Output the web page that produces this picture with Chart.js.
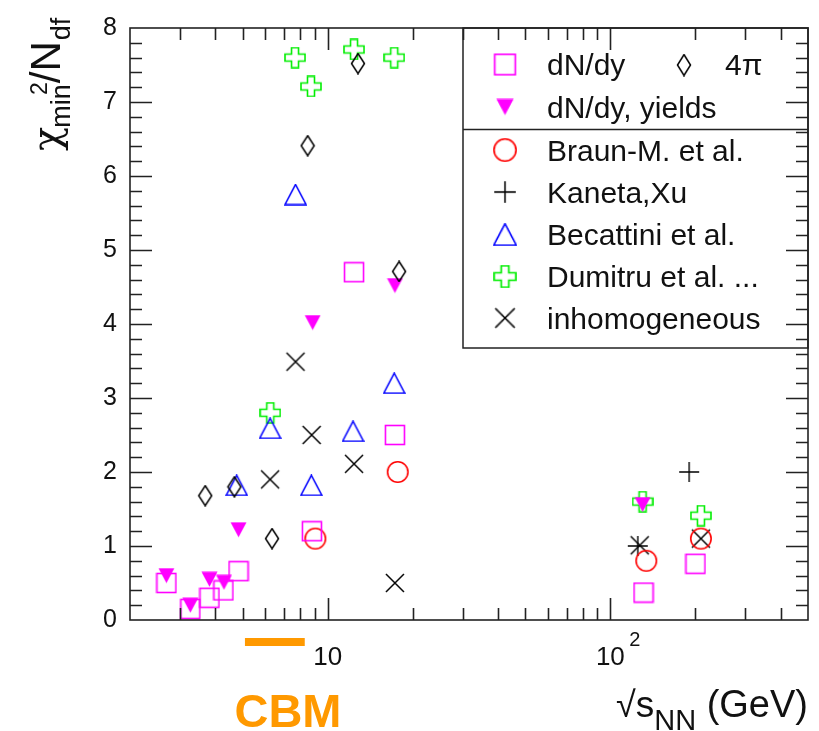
<!DOCTYPE html>
<html>
<head>
<meta charset="utf-8">
<script src="https://cdn.jsdelivr.net/npm/chart.js@4/dist/chart.umd.min.js"></script>
<style>
  body { margin: 0; background: #fff; }
  canvas { display: block; }
</style>
</head>
<body>
<canvas id="chi2" width="819" height="731"></canvas>
<script>
// chi2/Ndf of thermal fits vs sqrt(s_NN)

// dN/dy (open squares)
const dndyX = [2.69, 3.27, 3.82, 4.28, 4.84, 8.8, 12.4, 17.3, 131, 200];
const dndyY = [0.50, 0.15, 0.30, 0.40, 0.66, 1.20, 4.70, 2.50, 0.37, 0.76];
// dN/dy, yields (filled down triangles)
const yieldsX = [2.69, 3.27, 3.82, 4.3, 4.84, 8.85, 17.3, 130];
const yieldsY = [0.60, 0.20, 0.55, 0.51, 1.22, 4.02, 4.52, 1.56];
// 4pi (diamonds)
const fourPiX = [3.69, 4.68, 6.36, 8.5, 12.8, 17.9];
const fourPiY = [1.68, 1.80, 1.10, 6.41, 7.52, 4.71];
// Braun-Munzinger et al.
const braunX = [9.05, 17.7, 134, 209];
const braunY = [1.10, 2.00, 0.80, 1.10];
// Kaneta, Xu
const kanetaX = [125, 190];
const kanetaY = [1.00, 2.00];
// Becattini et al.
const becattiniX = [4.77, 6.26, 7.7, 8.76, 12.3, 17.2];
const becattiniY = [1.82, 2.59, 5.75, 1.82, 2.55, 3.20];
// Dumitru et al.
const dumitruX = [6.27, 7.67, 8.73, 12.4, 17.2, 130, 209];
const dumitruY = [2.80, 7.60, 7.21, 7.71, 7.60, 1.60, 1.41];
// inhomogeneous freeze-out
const inhomX = [6.26, 7.7, 8.78, 12.4, 17.3, 127, 209];
const inhomY = [1.90, 3.49, 2.50, 2.11, 0.50, 1.01, 1.10];

// CBM energy range
const cbmRange = [5.1, 8.3];

// axis ticks
const xMajorTicks = [10, 100];
const xMinorTicks = [3, 4, 5, 6, 7, 8, 9, 20, 30, 40, 50, 60, 70, 80, 90, 200, 300, 400];

const SANS = '"Liberation Sans", Arial, Helvetica, sans-serif';

function pts(xs, ys) {
  return xs.map((x, i) => ({ x: x, y: ys[i] }));
}

// marker sprites
function sprite(w, h, draw) {
  const c = document.createElement('canvas');
  c.width = w; c.height = h;
  const g = c.getContext('2d');
  g.lineWidth = 1.6;
  draw(g);
  return c;
}

const mSquare = sprite(22, 22, g => {
  g.strokeStyle = '#ff00ff';
  g.strokeRect(1.5, 1.5, 19, 19);
});
const mTriDown = sprite(17, 16, g => {
  g.fillStyle = '#ff00ff';
  g.beginPath(); g.moveTo(0.5, 0.5); g.lineTo(16.5, 0.5); g.lineTo(8.5, 15.5); g.closePath(); g.fill();
});
const mDiamond = sprite(16, 22, g => {
  g.strokeStyle = '#000';
  g.lineWidth = 1.5;
  g.beginPath(); g.moveTo(8, 1); g.lineTo(14.5, 11); g.lineTo(8, 21); g.lineTo(1.5, 11); g.closePath(); g.stroke();
});
const mCircle = sprite(24, 24, g => {
  g.strokeStyle = '#ff0000';
  g.beginPath(); g.arc(12, 12, 10.2, 0, Math.PI * 2); g.stroke();
});
const mPlus = sprite(22, 22, g => {
  g.strokeStyle = '#000';
  g.lineWidth = 1.4;
  g.beginPath(); g.moveTo(11, 1); g.lineTo(11, 21); g.moveTo(1, 11); g.lineTo(21, 11); g.stroke();
});
const mTriUp = sprite(23, 22, g => {
  g.strokeStyle = '#0000ff';
  g.beginPath(); g.moveTo(11.5, 1); g.lineTo(22, 21); g.lineTo(1, 21); g.closePath(); g.stroke();
});
const mOpenCross = sprite(22, 22, g => {
  g.strokeStyle = '#00ee00';
  const a = 7.5, b = 14.5;
  g.beginPath();
  g.moveTo(a, 1); g.lineTo(b, 1); g.lineTo(b, a); g.lineTo(21, a); g.lineTo(21, b); g.lineTo(b, b);
  g.lineTo(b, 21); g.lineTo(a, 21); g.lineTo(a, b); g.lineTo(1, b); g.lineTo(1, a); g.lineTo(a, a);
  g.closePath(); g.stroke();
});
const mX = sprite(22, 22, g => {
  g.strokeStyle = '#000';
  g.lineWidth = 1.5;
  g.beginPath(); g.moveTo(2, 2); g.lineTo(20, 20); g.moveTo(20, 2); g.lineTo(2, 20); g.stroke();
});

function ds(label, xs, ys, img) {
  return { label: label, data: pts(xs, ys), pointStyle: img, pointRadius: 10, showLine: false };
}

// frame, ticks, tick labels, axis titles, legend and CBM marker
const decor = {
  id: 'decor',
  afterDatasetsDraw(chart) {
    const ctx = chart.ctx;
    const a = chart.chartArea;

    // legend box
    const L = 463, T = a.top, R = a.right, B = 348;
    ctx.save();
    ctx.fillStyle = '#fff';
    ctx.fillRect(L, T, R - L, B - T);
    ctx.strokeStyle = '#222';
    ctx.lineWidth = 1.5;
    ctx.strokeRect(L, T, R - L, B - T);
    ctx.beginPath(); ctx.moveTo(L, 129.5); ctx.lineTo(R, 129.5); ctx.stroke();

    const mx = 505, tx = 547;
    const rows = [
      [mSquare, 'dN/dy', 75],
      [mTriDown, 'dN/dy, yields', 117.5],
      [mCircle, 'Braun-M. et al.', 160.5],
      [mPlus, 'Kaneta,Xu', 202.5],
      [mTriUp, 'Becattini et al.', 245],
      [mOpenCross, 'Dumitru et al. ...', 287],
      [mX, 'inhomogeneous', 328.5]
    ];
    ctx.font = '30px ' + SANS;
    ctx.fillStyle = '#111';
    ctx.textBaseline = 'alphabetic';
    rows.forEach(r => {
      const s = 1.08;
      const w = r[0].width * s, h = r[0].height * s;
      ctx.drawImage(r[0], mx - w / 2, r[2] - 10.5 - h / 2, w, h);
      ctx.fillText(r[1], tx, r[2]);
    });
    ctx.drawImage(mDiamond, 684 - 8, 65 - 11.5, 16, 23);
    ctx.fillText('4π', 725, 75);
    ctx.restore();
  },
  afterDraw(chart) {
    const ctx = chart.ctx;
    const a = chart.chartArea;
    const xs = chart.scales.x, ys = chart.scales.y;
    ctx.save();
    ctx.strokeStyle = '#222';
    ctx.lineWidth = 1.6;
    ctx.strokeRect(a.left, a.top, a.right - a.left, a.bottom - a.top);

    ctx.beginPath();
    const xTick = (v, len) => {
      const p = Math.round(xs.getPixelForValue(v)) + 0.5;
      ctx.moveTo(p, a.bottom); ctx.lineTo(p, a.bottom - len);
      ctx.moveTo(p, a.top); ctx.lineTo(p, a.top + len);
    };
    xMajorTicks.forEach(v => xTick(v, 22));
    xMinorTicks.forEach(v => xTick(v, 12));
    for (let i = 1; i < 40; i++) {
      const v = i / 5;
      const len = i % 5 === 0 ? 22 : 12;
      const p = Math.round(ys.getPixelForValue(v)) + 0.5;
      ctx.moveTo(a.left, p); ctx.lineTo(a.left + len, p);
      ctx.moveTo(a.right, p); ctx.lineTo(a.right - len, p);
    }
    ctx.stroke();

    // x tick labels
    ctx.fillStyle = '#111';
    ctx.textBaseline = 'alphabetic';
    ctx.textAlign = 'center';
    ctx.font = '26px ' + SANS;
    ctx.fillText('10', xs.getPixelForValue(10), 665);
    const p100 = xs.getPixelForValue(100);
    ctx.fillText('10', p100, 665);
    ctx.textAlign = 'left';
    ctx.font = '20px ' + SANS;
    ctx.fillText('2', p100 + 19, 646);

    // x title
    const parts = [
      ['√', '36px ' + SANS, 0],
      ['s', '37px ' + SANS, 0],
      ['NN', '29px ' + SANS, 13],
      [' (GeV)', '38px ' + SANS, 0]
    ];
    let total = 0;
    parts.forEach(p => { ctx.font = p[1]; total += ctx.measureText(p[0]).width; });
    let x = 808 - total;
    parts.forEach(p => {
      ctx.font = p[1];
      ctx.fillText(p[0], x, 717 + p[2]);
      x += ctx.measureText(p[0]).width;
    });

    // y title
    ctx.save();
    ctx.translate(60, 151);
    ctx.rotate(-Math.PI / 2);
    let u = 0;
    ctx.font = '40px "DejaVu Serif", serif';
    ctx.fillText('χ', u, 0);
    u += ctx.measureText('χ').width - 1;
    ctx.font = '27px ' + SANS;
    const wMin = ctx.measureText('min').width;
    ctx.fillText('min', u, 10);
    ctx.font = '23px ' + SANS;
    const w2 = ctx.measureText('2').width;
    ctx.fillText('2', u + wMin - w2 + 2, -13);
    u += wMin + 1;
    ctx.font = '42px ' + SANS;
    ctx.fillText('/N', u, 0);
    u += ctx.measureText('/N').width + 1;
    ctx.font = '27px ' + SANS;
    ctx.fillText('df', u, 10);
    ctx.restore();

    // CBM range bar and label
    const c0 = xs.getPixelForValue(cbmRange[0]);
    const c1 = xs.getPixelForValue(cbmRange[1]);
    ctx.fillStyle = '#ff9900';
    ctx.fillRect(c0, 638, c1 - c0, 8);
    ctx.font = 'bold 47px ' + SANS;
    ctx.textAlign = 'center';
    ctx.fillText('CBM', 288, 727);
    ctx.restore();
  }
};

new Chart(document.getElementById('chi2'), {
  type: 'scatter',
  data: {
    datasets: [
      ds('dN/dy', dndyX, dndyY, mSquare),
      ds('4π', fourPiX, fourPiY, mDiamond),
      ds('dN/dy, yields', yieldsX, yieldsY, mTriDown),
      ds('Braun-M. et al.', braunX, braunY, mCircle),
      ds('Kaneta,Xu', kanetaX, kanetaY, mPlus),
      ds('Becattini et al.', becattiniX, becattiniY, mTriUp),
      ds('Dumitru et al. ...', dumitruX, dumitruY, mOpenCross),
      ds('inhomogeneous', inhomX, inhomY, mX)
    ]
  },
  options: {
    responsive: false,
    animation: false,
    layout: { padding: { top: 17, right: 10, left: 0, bottom: 0 } },
    plugins: { legend: { display: false }, tooltip: { enabled: false } },
    scales: {
      x: {
        type: 'logarithmic',
        min: 2,
        max: 500,
        grid: { display: false, drawTicks: false },
        border: { display: false },
        ticks: { display: false },
        afterFit: s => { s.height = 111; }
      },
      y: {
        min: 0,
        max: 8,
        grid: { display: false, drawTicks: false },
        border: { display: false },
        ticks: { stepSize: 1, padding: 13, color: '#111', font: { size: 25, family: SANS } },
        afterFit: s => { s.width = 130; }
      }
    }
  },
  plugins: [decor]
});
</script>
</body>
</html>
